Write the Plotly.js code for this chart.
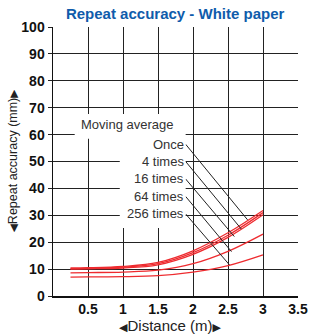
<!DOCTYPE html>
<html>
<head>
<meta charset="utf-8">
<script src="https://cdn.plot.ly/plotly-3.0.1.min.js"></script>
<style>html,body{margin:0;padding:0;background:#fff;}#chart{width:310px;height:335px;}</style>
</head>
<body>
<div id="chart"></div>
<script>
// ---- data ----
var distance = [0.25, 0.5, 1, 1.5, 2, 2.5, 3];
var once      = [10.4, 10.5, 11.0, 12.5, 16.8, 23.5, 31.8];
var times4    = [10.2, 10.3, 10.7, 12.0, 16.1, 22.6, 31.0];
var times16   = [10.0, 10.1, 10.4, 11.6, 15.5, 21.8, 30.2];
var times64   = [8.6, 8.7, 8.9, 9.6, 12.0, 16.6, 23.0];
var times256  = [7.0, 7.1, 7.2, 7.6, 8.9, 11.3, 15.3];

var seriesLabels = ["Once", "4 times", "16 times", "64 times", "256 times"];
var headerLabel = "Moving average";
var labelY = [56.4, 50.0, 43.5, 37.0, 30.5];
var leaderEndX = [2.78, 2.69, 2.59, 2.55, 2.52];
var leaderEndY = [28.3, 24.9, 22.1, 16.5, 11.6];

var xTickVals = [0.5, 1, 1.5, 2, 2.5, 3, 3.5];
var xTickText = ["0.5", "1", "1.5", "2", "2.5", "3", "3.5"];
var yTickVals = [0, 10, 20, 30, 40, 50, 60, 70, 80, 90, 100];
var yTickText = ["0", "10", "20", "30", "40", "50", "60", "70", "80", "90", "100"];
var xTitle = "Distance (m)";
var yTitle = "Repeat accuracy (mm)";

// ---- build ----
var RED = '#ee2b2f';
var allSeries = [once, times4, times16, times64, times256];
var traces = allSeries.map(function (s, i) {
  return {
    x: distance, y: s, type: 'scatter', mode: 'lines',
    line: {color: RED, width: 1.3, shape: 'spline'},
    name: seriesLabels[i], hoverinfo: 'skip', showlegend: false
  };
});

var labelX = 1.895;
var lx = [], ly = [];
for (var i = 0; i < seriesLabels.length; i++) {
  lx.push(labelX, leaderEndX[i], null);
  ly.push(labelY[i], leaderEndY[i], null);
}
traces.push({
  x: lx, y: ly, type: 'scatter', mode: 'lines',
  line: {color: '#222', width: 1}, hoverinfo: 'skip', showlegend: false
});

function arrows(t, sz) {
  return '<span style="font-family:DejaVu Sans;font-size:' + sz + 'px">◀</span>' + t +
         '<span style="font-family:DejaVu Sans;font-size:' + sz + 'px">▶</span>';
}

var annFont = {family: 'Liberation Sans, Arial, sans-serif', size: 13, color: '#333'};
var annotations = [{
  x: 1.067, y: 63.6, xref: 'x', yref: 'y', text: headerLabel, showarrow: false,
  xanchor: 'center', yanchor: 'middle', font: annFont
}];
seriesLabels.forEach(function (t, i) {
  annotations.push({
    x: labelX, y: labelY[i], xref: 'x', yref: 'y', text: t, showarrow: false,
    xanchor: 'right', yanchor: 'middle', font: annFont
  });
});
// axis titles
annotations.push({
  x: 0.478, y: -0.108, xref: 'paper', yref: 'paper', text: arrows(xTitle, 11),
  showarrow: false, xanchor: 'center', yanchor: 'middle',
  font: {family: 'Liberation Sans, Arial, sans-serif', size: 15, color: '#222'}
});
annotations.push({
  x: -0.163, y: 0.505, xref: 'paper', yref: 'paper', text: arrows(yTitle, 10.5),
  textangle: -90, showarrow: false, xanchor: 'center', yanchor: 'middle',
  font: {family: 'Liberation Sans, Arial, sans-serif', size: 12.5, color: '#222'}
});

var shapes = [
  {type: 'rect', xref: 'x', yref: 'y', x0: 0.31, x1: labelX, y0: 58.5, y1: 67.7,
   fillcolor: '#fff', line: {width: 0}, layer: 'above'},
  {type: 'rect', xref: 'x', yref: 'y', x0: 0.954, x1: labelX, y0: 25.3, y1: 58.8,
   fillcolor: '#fff', line: {width: 0}, layer: 'above'}
];

var tickFont = {family: 'Liberation Sans, Arial, sans-serif', size: 14, color: '#111', weight: 'bold'};
var layout = {
  width: 310, height: 335,
  margin: {l: 53, r: 12, t: 27, b: 39, pad: 0},
  paper_bgcolor: '#fff', plot_bgcolor: '#fff',
  title: {
    text: 'Repeat accuracy - White paper',
    font: {family: 'Liberation Sans, Arial, sans-serif', size: 15, color: '#0f5cab', weight: 'bold'},
    x: 0.565, xref: 'container', xanchor: 'center',
    y: 0.958, yref: 'container', yanchor: 'middle'
  },
  xaxis: {
    range: [0, 3.5], tickvals: xTickVals, ticktext: xTickText,
    showgrid: true, gridcolor: '#222', gridwidth: 1,
    zeroline: false, showline: true, linecolor: '#111', linewidth: 1.5,
    ticks: '', tickfont: tickFont, fixedrange: true
  },
  yaxis: {
    range: [0, 100], tickvals: yTickVals, ticktext: yTickText,
    showgrid: true, gridcolor: '#222', gridwidth: 1,
    zeroline: false, showline: true, linecolor: '#111', linewidth: 1.5,
    ticks: 'outside', ticklen: 4, tickcolor: '#222', tickwidth: 1,
    tickfont: tickFont, fixedrange: true
  },
  shapes: shapes,
  annotations: annotations,
  showlegend: false
};

Plotly.newPlot('chart', traces, layout, {displayModeBar: false, staticPlot: true});
</script>
</body>
</html>
